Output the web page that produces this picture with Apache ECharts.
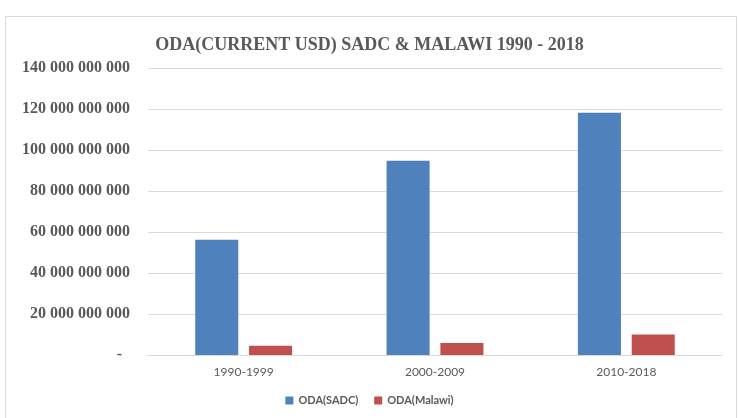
<!DOCTYPE html>
<html>
<head>
<meta charset="utf-8">
<script src="https://cdn.jsdelivr.net/npm/echarts@6/dist/echarts.min.js"></script>
<style>
html,body{margin:0;padding:0;background:#fff;}
#chart{width:739px;height:418px;}
</style>
</head>
<body>
<div id="chart"></div>
<script>
var categories = ['1990-1999', '2000-2009', '2010-2018'];
var sadcValues = [56200000000, 94800000000, 118200000000];
var malawiValues = [4500000000, 5900000000, 10000000000];
var seriesNames = ['ODA(SADC)', 'ODA(Malawi)'];
var chartTitle = 'ODA(CURRENT USD) SADC & MALAWI 1990 - 2018';

function fmt(v) {
  if (v === 0) return '-  ';
  var s = String(Math.round(v));
  return s.replace(/\B(?=(\d{3})+(?!\d))/g, ' ');
}

var chart = echarts.init(document.getElementById('chart'), null, {renderer: 'canvas'});
chart.setOption({
  backgroundColor: '#ffffff',
  animation: false,
  graphic: [
    {type: 'rect', shape: {x: 5.5, y: 16.5, width: 731, height: 420}, style: {fill: 'none', stroke: '#d9d9d9', lineWidth: 1}, z: -1},
    {type: 'text', left: 8, top: -14, style: {text: 'Figure 4.1: ODA (current USD)', font: 'bold 14px "Liberation Serif"', fill: '#000'}}
  ],
  title: {
    text: chartTitle,
    left: 'center',
    top: 31,
    textStyle: {fontFamily: 'Liberation Serif', fontWeight: 'bold', fontSize: 18, color: '#595959'}
  },
  legend: {
    data: seriesNames,
    bottom: 7,
    left: 'center',
    icon: 'rect',
    itemWidth: 8,
    itemHeight: 8,
    itemGap: 16,
    textStyle: {fontFamily: 'Lato', fontWeight: 'bold', fontSize: 11, color: '#595959'}
  },
  grid: {left: 148, right: 17, top: 68, bottom: 63},
  xAxis: {
    type: 'category',
    data: categories,
    axisLine: {show: true, lineStyle: {color: '#d9d9d9'}},
    axisTick: {show: false},
    axisLabel: {fontFamily: 'Lato', fontSize: 12, color: '#595959', margin: 11}
  },
  yAxis: {
    type: 'value',
    min: 0,
    max: 140000000000,
    interval: 20000000000,
    axisLine: {show: false},
    axisTick: {show: false},
    splitLine: {lineStyle: {color: '#d9d9d9'}},
    axisLabel: {fontFamily: 'Liberation Serif', fontWeight: 'bold', fontSize: 16, color: '#595959', margin: 18, formatter: fmt}
  },
  series: [
    {name: seriesNames[0], type: 'bar', data: sadcValues, barWidth: '22.5%', barGap: '25%', itemStyle: {color: '#4f81bd'}},
    {name: seriesNames[1], type: 'bar', data: malawiValues, barWidth: '22.5%', itemStyle: {color: '#c0504d'}}
  ]
});
</script>
</body>
</html>
